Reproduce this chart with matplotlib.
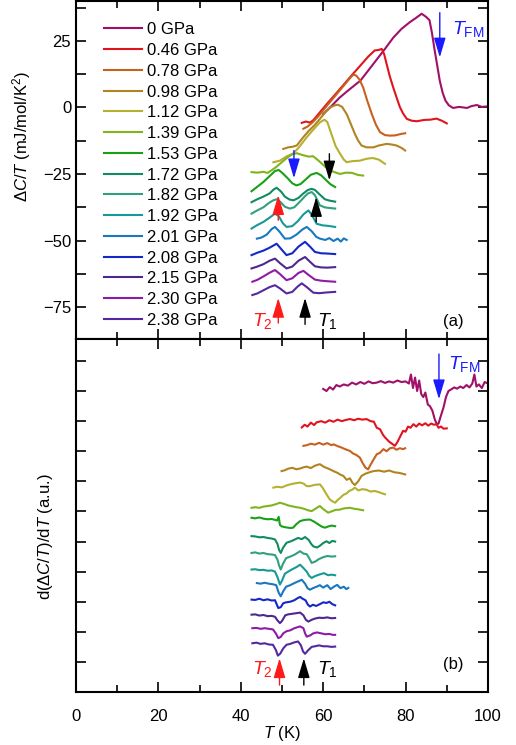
import matplotlib as mp
mp.use("Agg")
import matplotlib.pyplot as plt
from matplotlib.ticker import MultipleLocator, NullFormatter

mp.rcParams.update({
    "font.family": ["Liberation Sans", "DejaVu Sans"],
    "font.size": 12,
    "mathtext.fontset": "custom",
    "mathtext.rm": "Liberation Sans",
    "mathtext.it": "Liberation Sans:italic",
    "mathtext.bf": "Liberation Sans:bold",
})

pressures = ["0 GPa", "0.46 GPa", "0.78 GPa", "0.98 GPa", "1.12 GPa", "1.39 GPa", "1.53 GPa",
             "1.72 GPa", "1.82 GPa", "1.92 GPa", "2.01 GPa", "2.08 GPa", "2.15 GPa",
             "2.30 GPa", "2.38 GPa"]
colors = ["#a01068", "#e0141e", "#c8601e", "#b08420", "#b4b030", "#80b41e", "#18a018",
          "#108c60", "#30a080", "#189898", "#1878c0", "#1428c8", "#4c2890", "#8c1ca8", "#5428a0"]

# ---- panel (a): dC/T (mJ/mol/K^2) vs T (K) ----
ta_000 = [60, 62, 64, 66, 68, 69, 71, 73, 75, 77, 79, 81, 82.5, 83.9, 85, 85.8, 86.4, 87, 87.6,
          88.3, 89, 89.7, 90.5, 91.5, 93, 94.9, 96, 97.3, 98.5, 100]
ca_000 = [-2.5, 0.5, 3.7, 6.3, 8.8, 10, 14, 18, 22, 26.2, 29.5, 32, 33.6, 35.2, 34, 32.8, 28, 22,
          16.5, 10, 5.5, 2.5, 0.8, -0.2, 0.2, -0.2, 0.5, 0.9, 0.2, 0.4]
ta_046 = [54.8, 55.8, 56.8, 57.6, 59, 61, 63, 65, 67, 69, 71, 72.5, 73.5, 74.2, 74.8, 75.4, 76.2,
          77, 77.8, 78.6, 79.4, 80.3, 81.5, 82.7, 84.5, 86, 87.5, 88.8, 90]
ca_046 = [-5.8, -5.3, -5.7, -4.8, -2.2, 1.5, 5, 8.6, 12.2, 15.7, 19.2, 21.4, 21.6, 22, 20, 16.3,
          11.5, 7.5, 3.8, 0.2, -2.3, -4.3, -5, -5.2, -4.7, -4.6, -4.2, -5, -6]
ta_078 = [55.2, 56.2, 57.5, 59, 61, 63, 65, 66.5, 67.3, 68, 68.8, 69.7, 70.7, 71.8, 72.8, 73.8,
          75, 76.2, 77.5, 78.8, 79.9]
ca_078 = [-8, -7.2, -5.5, -3, 0.8, 4.5, 8.2, 11, 12.3, 12, 10.5, 7.5, 2.5, -2.5, -6.5, -9.3,
          -10.4, -10.6, -10.5, -10, -9.7]
ta_098 = [50.3, 51.5, 52.5, 53.6, 55, 56.5, 58, 59.2, 60.5, 61.7, 62.8, 63.6, 64.6, 65.7, 66.7,
          67.7, 68.5, 69.3, 70.5, 72.2, 73.5, 75.4, 76.5, 77.8, 79, 79.9]
ca_098 = [-15.6, -15, -14.8, -14.3, -11.5, -8.8, -6.5, -4.3, -1.8, 0, 0.8, 1, 0.2, -2.5, -6.2,
          -10, -12.5, -14.3, -15, -15, -14.3, -13.7, -13.9, -14.3, -15.2, -16.2]
ta_112 = [47.9, 49.5, 51, 52.7, 54, 55, 56, 57.5, 59.2, 60.3, 61, 62, 63, 64.1, 65, 65.7, 67,
          68.9, 70.5, 72, 73.5, 75]
ca_112 = [-20.6, -20, -18.5, -17.3, -15.2, -13.2, -11.2, -8.5, -5.6, -4.6, -5.5, -10, -14.5,
          -17.4, -19.6, -20.6, -20.2, -20, -19.3, -19, -19.6, -21.2]
ta_139 = [42.6, 44, 45.5, 46.5, 47.5, 48.5, 50, 51.5, 52.5, 53.6, 55, 56.5, 57.5, 58.5, 59.6,
          60.5, 61.5, 62.5, 64.1, 65.5, 67, 68.5, 69.7]
ca_139 = [-24.3, -24.5, -24.2, -24.6, -23.6, -22.5, -20.5, -18.6, -17.6, -17.2, -17.9, -18.5,
          -18.3, -19.5, -21, -22.3, -23.3, -24.2, -25, -24.5, -24.6, -25.4, -25.6]
ta_153 = [42.6, 44, 45.5, 47, 48.3, 49.2, 50.2, 51.5, 52.5, 53.5, 54.5, 55.8, 57, 58.4, 59.5,
          60.5, 61.7, 62.9]
ca_153 = [-31.5, -29.8, -28, -25.8, -23.9, -23.5, -24.8, -26.8, -28.5, -29.3, -28.8, -27, -25.3,
          -24.6, -25.5, -27, -28.8, -29.9]
ta_172 = [42.6, 44, 45.5, 47, 48, 48.7, 49.7, 50.7, 51.8, 52.8, 54, 55.2, 56.3, 57.2, 58, 59,
          60.4, 61.5, 62.9]
ca_172 = [-35.6, -34.5, -33.5, -32.3, -30.8, -30.2, -31.5, -33.5, -34.6, -34.9, -34, -32.3, -31,
          -30.6, -31, -32.5, -34.5, -35, -35.4]
ta_182 = [42.6, 44, 45.5, 47, 47.9, 48.7, 49.6, 50.7, 51.9, 53, 54.3, 55.5, 56.3, 57.2, 58, 59.2,
          60.5, 61.7, 62.9]
ca_182 = [-39.9, -38.7, -37.5, -35.7, -34.9, -34.5, -35.5, -37.3, -38, -37.5, -35.5, -33.5,
          -32.3, -31.8, -33, -36.8, -37.6, -37.8, -38]
ta_192 = [42.6, 44, 45.5, 47, 48.3, 49.2, 50.2, 51.1, 52.5, 53.8, 55.2, 56.4, 57.3, 58.4, 59.8,
          61.2, 62.9]
ca_192 = [-45.5, -44.2, -43, -41.4, -39.9, -40.8, -43.5, -44.9, -44.6, -42.8, -40.2, -38.7,
          -40.5, -43.7, -44.3, -44.5, -44.9]
ta_201 = [43.9, 45, 46.3, 47.5, 48.3, 49.3, 50.7, 52, 53.5, 55, 56, 57.2, 58.3, 59.2, 60.5, 61.5,
          62.5, 63.5, 64.3, 65, 65.7]
ca_201 = [-49.3, -48.9, -47.8, -45.7, -44.9, -46.5, -49.3, -49.2, -47.8, -45.8, -44.9, -46.5,
          -48.6, -49.3, -49.8, -49.1, -50.2, -49.3, -50.4, -49.2, -49.8]
ta_208 = [42.6, 44, 45.5, 47, 48.7, 49.8, 51.1, 52.5, 54, 55.6, 56.8, 58, 59.5, 61, 62.9]
ca_208 = [-55.5, -54.6, -53.8, -52.7, -51.2, -53.2, -55.5, -54.8, -52.3, -50.5, -52.3, -54.3,
          -54.8, -54.9, -55.1]
ta_215 = [42.6, 44, 45.5, 47, 48.3, 49.5, 51.1, 52.5, 54, 55.6, 56.8, 58, 59.5, 61, 62.9]
ca_215 = [-60.5, -59.8, -58.9, -57.6, -56.8, -58.5, -60.5, -59.8, -57.6, -56.2, -58, -59.7,
          -60.1, -60.2, -60]
ta_230 = [42.8, 44, 45.5, 47, 48.3, 49.5, 51.1, 52.5, 54, 55.2, 56.5, 58, 59.5, 61, 62.9]
ca_230 = [-65.5, -64.8, -63.5, -62.1, -61.1, -62.6, -64.9, -64.2, -62.2, -61.4, -63, -64.7,
          -65.1, -65.3, -65.5]
ta_238 = [42.8, 44, 45.5, 47, 48.3, 49.5, 51.1, 52.5, 53.8, 54.8, 56, 57.6, 59, 61, 62.9]
ca_238 = [-70.5, -69.9, -68.7, -67.5, -66.8, -68, -69.9, -69.3, -67.3, -66.1, -67.5, -69.6,
          -69.8, -69.5, -69.3]

# ---- panel (b): d(dC/T)/dT (a.u., curves offset) vs T (K) ----
tb_000 = [60, 60.8, 61.6, 62.4, 63.2, 64, 65, 66, 67, 68, 69, 70, 71, 72, 73, 74, 75, 76, 77, 78,
          79, 80, 80.8, 81.3, 81.8, 82.3, 82.8, 83.3, 83.8, 84.3, 84.8, 85.4, 85.9, 86.5, 87.1,
          87.6, 88, 88.5, 89.2, 89.8, 90.4, 91, 91.8, 92.5, 93.3, 94, 94.8, 95.5, 96.2, 96.7,
          97.2, 97.8, 98.5, 99.2, 100]
db_000 = [10.07, 10.0, 10.13, 10.05, 10.2, 10.15, 10.22, 10.18, 10.28, 10.22, 10.3, 10.24, 10.32,
          10.26, 10.28, 10.33, 10.27, 10.32, 10.28, 10.35, 10.3, 10.32, 10.25, 10.55, 10.1,
          10.45, 10.0, 10.35, 9.9, 9.8, 9.95, 9.55, 9.5, 9.35, 9.05, 8.9, 8.92, 9.15, 9.45, 9.8,
          10.0, 10.05, 10.12, 10.08, 10.15, 10.1, 10.2, 10.12, 10.25, 10.55, 10.15, 10.22, 10.1,
          10.3, 10.25]
tb_046 = [54.8, 55.5, 56.2, 57, 57.8, 58.4, 59.5, 60.5, 61.5, 62.5, 63.5, 64.5, 65.5, 66.5, 67.5,
          68.5, 69.5, 70.5, 71.5, 72.3, 73, 73.8, 74.5, 75, 76, 76.8, 77.4, 78, 78.8, 79.4, 80,
          80.6, 81.2, 81.9, 82.6, 83.3, 84, 84.8, 85.5, 86.2, 86.9, 87.5, 88, 88.6, 89.2, 90]
db_046 = [8.79, 8.88, 8.82, 8.95, 8.87, 8.96, 9.0, 8.95, 9.03, 8.98, 9.05, 9.0, 9.04, 9.07, 9.03,
          9.08, 9.05, 9.07, 9.0, 8.98, 8.78, 8.73, 8.55, 8.46, 8.32, 8.24, 8.18, 8.3, 8.52, 8.68,
          8.65, 8.82, 8.78, 8.9, 8.82, 8.92, 8.86, 8.93, 8.85, 8.92, 8.88, 8.9, 8.78, 8.82, 8.75,
          8.76]
tb_078 = [55.2, 56, 57, 58, 59, 60, 61, 62, 62.5, 63.5, 64.5, 65.5, 66.5, 67.3, 68, 68.9, 69.6,
          70.3, 70.9, 71.5, 72.2, 73, 73.8, 74.6, 75.4, 76.2, 77, 77.8, 78.6, 79.4, 79.9]
db_078 = [8.18, 8.2, 8.25, 8.22, 8.28, 8.22, 8.27, 8.2, 8.23, 8.17, 8.12, 8.06, 8.01, 7.92, 7.88,
          7.79, 7.6, 7.45, 7.4, 7.55, 7.72, 7.9, 7.95, 8.07, 8.0, 8.1, 8.12, 8.05, 8.1, 8.07, 8.1]
tb_098 = [49.9, 50.7, 51.5, 52.5, 53.5, 54.5, 55.3, 56, 57, 58, 59.2, 60.2, 61.3, 62.5, 63.5,
          64.2, 64.9, 65.7, 66.5, 67.1, 67.7, 68.5, 69.3, 70.2, 71.2, 72.2, 73.5, 74.8, 76, 77.3,
          78.5, 79.9]
db_098 = [7.34, 7.37, 7.42, 7.45, 7.4, 7.43, 7.47, 7.49, 7.44, 7.52, 7.57, 7.48, 7.42, 7.34, 7.28,
          7.22, 7.18, 7.05, 7.1, 6.95, 6.88, 7.0, 7.18, 7.25, 7.3, 7.34, 7.36, 7.32, 7.36, 7.3,
          7.28, 7.23]
tb_112 = [47.9, 48.8, 50, 51, 52, 53, 54.4, 55.3, 56, 56.8, 57.8, 59.2, 59.9, 60.8, 61.6, 62.3,
          62.9, 63.5, 64.2, 64.9, 65.7, 66.3, 67, 67.7, 68.5, 69.5, 70.5, 71.5, 72.5, 73.5, 74.3,
          75]
db_112 = [6.79, 6.82, 6.8, 6.86, 6.9, 6.93, 6.96, 6.92, 6.84, 6.84, 6.88, 6.9, 6.78, 6.57, 6.4,
          6.33, 6.29, 6.38, 6.46, 6.55, 6.6, 6.68, 6.72, 6.79, 6.7, 6.74, 6.72, 6.66, 6.68, 6.64,
          6.6, 6.57]
tb_139 = [42.6, 43.5, 44.5, 45.5, 46.5, 47.5, 48.5, 49.5, 50.5, 51.5, 52.5, 53.5, 54.5, 55.5,
          56.3, 57.2, 58, 59.2, 60, 61.2, 62, 63, 64, 65, 66.5, 67.5, 68.5, 69.7]
db_139 = [6.12, 6.14, 6.12, 6.16, 6.18, 6.2, 6.24, 6.29, 6.25, 6.2, 6.17, 6.14, 6.12, 6.08, 6.04,
          6.01, 6.08, 6.18, 6.08, 5.96, 6.0, 6.05, 6.06, 6.1, 6.12, 6.09, 6.07, 6.04]
tb_153 = [42.6, 43.5, 44.5, 45.5, 46.5, 47.5, 48.3, 48.8, 49.2, 49.5, 50, 51, 52, 52.7, 53.5,
          54.4, 55.5, 56.8, 57.8, 58.8, 59.6, 60.4, 61.2, 62, 62.9]
db_153 = [5.79, 5.77, 5.8, 5.76, 5.74, 5.75, 5.72, 5.7, 5.82, 5.55, 5.5, 5.47, 5.45, 5.46, 5.58,
          5.68, 5.72, 5.73, 5.66, 5.57, 5.5, 5.46, 5.5, 5.53, 5.51]
tb_172 = [42.6, 43.5, 44.5, 45.5, 46.5, 47.5, 48.3, 48.9, 49.3, 49.7, 50.2, 51.1, 52, 53, 53.9,
          54.8, 55.6, 56.5, 57.1, 57.6, 58.5, 59.2, 60, 60.8, 61.5, 62.2, 62.9]
db_172 = [5.18, 5.17, 5.14, 5.15, 5.12, 5.1, 5.07, 4.92, 4.72, 4.62, 4.78, 4.96, 5.0, 5.06, 5.12,
          5.08, 5.15, 5.05, 4.92, 4.84, 4.8, 4.86, 4.95, 5.01, 4.95, 5.02, 5.0]
tb_182 = [42.6, 43.5, 44.5, 45.5, 46.5, 47.5, 48.3, 48.9, 49.3, 49.7, 50.2, 51, 52, 53, 54.4,
          55.2, 56, 56.6, 57.2, 58, 59, 60, 61, 62, 62.9]
db_182 = [4.62, 4.64, 4.6, 4.62, 4.58, 4.57, 4.55, 4.4, 4.2, 4.07, 4.25, 4.45, 4.5, 4.56, 4.68,
          4.6, 4.58, 4.45, 4.29, 4.33, 4.42, 4.48, 4.52, 4.5, 4.51]
tb_192 = [42.6, 43.5, 44.5, 45.5, 46.5, 47.5, 48.3, 48.9, 49.5, 50, 50.7, 51.5, 52.5, 53.5, 54.4,
          55.2, 56, 56.6, 57.2, 58, 59, 60.2, 61.2, 62, 62.9]
db_192 = [4.07, 4.08, 4.05, 4.06, 4.03, 4.04, 4.0, 3.82, 3.57, 3.7, 3.93, 4.0, 4.08, 4.15, 4.23,
          4.12, 4.0, 3.86, 3.79, 3.85, 3.9, 3.95, 3.88, 3.9, 3.88]
tb_201 = [43.9, 44.8, 45.8, 46.8, 47.8, 48.6, 49.2, 49.7, 50.3, 51, 52, 53, 54, 54.8, 55.6, 56.2,
          56.8, 57.5, 58.4, 59.2, 60, 61, 61.8, 62.6, 63.4, 64.2, 65, 65.6, 66.1]
db_201 = [3.62, 3.6, 3.63, 3.6, 3.58, 3.55, 3.3, 3.18, 3.35, 3.5, 3.55, 3.62, 3.68, 3.73, 3.6,
          3.45, 3.4, 3.45, 3.5, 3.55, 3.47, 3.55, 3.42, 3.5, 3.56, 3.45, 3.5, 3.42, 3.46]
tb_208 = [42.6, 43.5, 44.5, 45.5, 46.5, 47.5, 48.3, 48.7, 49.1, 49.7, 50.3, 51, 52, 53, 53.8,
          54.4, 55, 55.7, 56.3, 56.8, 57.5, 58.3, 59.2, 60, 60.8, 61.5, 62.2, 62.9]
db_208 = [3.07, 3.06, 3.1, 3.05, 3.08, 3.04, 3.05, 2.92, 2.79, 2.82, 2.95, 2.98, 3.0, 3.05, 3.12,
          3.16, 3.1, 3.05, 2.9, 2.84, 2.9, 2.86, 2.92, 2.98, 2.96, 3.0, 2.92, 2.88]
tb_215 = [42.6, 43.5, 44.5, 45.5, 46.5, 47.5, 48.3, 48.9, 49.5, 50, 50.8, 51.5, 52.5, 53.5, 54.4,
          55.2, 55.8, 56.4, 57.2, 58, 59, 60, 61, 62, 62.9]
db_215 = [2.57, 2.58, 2.54, 2.56, 2.52, 2.53, 2.5, 2.38, 2.29, 2.36, 2.55, 2.58, 2.6, 2.62, 2.64,
          2.55, 2.4, 2.34, 2.4, 2.44, 2.47, 2.46, 2.48, 2.45, 2.46]
tb_230 = [42.8, 43.8, 44.8, 45.8, 46.8, 47.8, 48.5, 49.1, 49.7, 50.3, 51.1, 52, 53, 54.4, 55.2,
          55.6, 56, 56.8, 57.6, 58.5, 59.5, 60.5, 61.5, 62.3, 62.9]
db_230 = [2.12, 2.13, 2.1, 2.12, 2.1, 2.08, 1.95, 1.79, 1.83, 1.95, 2.02, 2.05, 2.12, 2.18, 2.12,
          1.95, 1.84, 1.88, 1.95, 1.98, 1.95, 1.92, 1.93, 1.9, 1.9]
tb_238 = [42.8, 43.8, 44.8, 45.8, 46.8, 47.8, 48.5, 49, 49.6, 50.3, 51.1, 52, 53, 53.9, 54.6,
          55.1, 55.6, 56.3, 57.2, 58, 59, 60, 61, 62, 62.9]
db_238 = [1.62, 1.64, 1.6, 1.62, 1.58, 1.57, 1.4, 1.21, 1.28, 1.45, 1.57, 1.6, 1.65, 1.68, 1.55,
          1.35, 1.27, 1.38, 1.5, 1.52, 1.55, 1.52, 1.52, 1.5, 1.51]

top_T = [ta_000, ta_046, ta_078, ta_098, ta_112, ta_139, ta_153, ta_172, ta_182, ta_192,
         ta_201, ta_208, ta_215, ta_230, ta_238]
top_C = [ca_000, ca_046, ca_078, ca_098, ca_112, ca_139, ca_153, ca_172, ca_182, ca_192,
         ca_201, ca_208, ca_215, ca_230, ca_238]
bot_T = [tb_000, tb_046, tb_078, tb_098, tb_112, tb_139, tb_153, tb_172, tb_182, tb_192,
         tb_201, tb_208, tb_215, tb_230, tb_238]
bot_D = [db_000, db_046, db_078, db_098, db_112, db_139, db_153, db_172, db_182, db_192,
         db_201, db_208, db_215, db_230, db_238]

fig = plt.figure(figsize=(5.16, 7.45), dpi=100)
ax1 = fig.add_axes([0.1473, 0.545, 0.7984, 0.4537])
ax2 = fig.add_axes([0.1473, 0.0711, 0.7984, 0.4739])

for x, y, c, lab in zip(top_T, top_C, colors, pressures):
    ax1.plot(x, y, color=c, lw=1.5, label=lab)
for x, y, c in zip(bot_T, bot_D, colors):
    ax2.plot(x, y, color=c, lw=1.5)


def arrow(ax, x, y0, y1, col):
    ax.annotate("", xy=(x, y1), xytext=(x, y0),
                arrowprops=dict(arrowstyle="-|>,head_length=0.6,head_width=0.18",
                                color=col, lw=1.0, mutation_scale=20,
                                shrinkA=0, shrinkB=0))


# arrows in (a)
arrow(ax1, 88.3, 35.6, 18.8, "#1a1aff")
arrow(ax1, 52.9, -16.2, -26.6, "#1a1aff")
arrow(ax1, 61.5, -17.4, -27.4, "black")
arrow(ax1, 49.1, -42.4, -33.0, "#ff1a1a")
arrow(ax1, 58.3, -43.0, -33.7, "black")
arrow(ax1, 49.1, -81.0, -71.6, "#ff1a1a")
arrow(ax1, 55.6, -81.5, -71.6, "black")
ax1.text(91.2, 29.5, r"$T_{\rm FM}$", color="#1a1aff", fontsize=14, ha="left", va="center")
ax1.text(47.8, -80.3, r"$T_2$", color="#ff1a1a", fontsize=14, ha="right", va="center")
ax1.text(58.4, -80.3, r"$T_1$", color="black", fontsize=14, ha="left", va="center")
ax1.text(91.5, -80.6, "(a)", fontsize=12, ha="center", va="center")

# arrows in (b)
arrow(ax2, 88.1, 11.23, 9.73, "#1a1aff")
arrow(ax2, 49.4, 0.23, 1.12, "#ff1a1a")
arrow(ax2, 55.3, 0.23, 1.12, "black")
ax2.text(90.3, 10.9, r"$T_{\rm FM}$", color="#1a1aff", fontsize=14, ha="left", va="center")
ax2.text(47.8, 0.75, r"$T_2$", color="#ff1a1a", fontsize=14, ha="right", va="center")
ax2.text(58.4, 0.75, r"$T_1$", color="black", fontsize=14, ha="left", va="center")
ax2.text(91.5, 0.9, "(b)", fontsize=12, ha="center", va="center")

for ax in (ax1, ax2):
    ax.set_xlim(0, 100)
    ax.xaxis.set_major_locator(MultipleLocator(20))
    ax.xaxis.set_minor_locator(MultipleLocator(10))
    ax.tick_params(which="both", direction="in", top=True, right=True, width=1.2)
    ax.tick_params(which="major", length=7)
    ax.tick_params(which="minor", length=5)
    ax.tick_params(axis="x", which="major", pad=12)
    for s in ax.spines.values():
        s.set_linewidth(1.5)

ax1.set_ylim(-87, 40)
ax1.yaxis.set_major_locator(MultipleLocator(25))
ax1.yaxis.set_minor_locator(MultipleLocator(12.5))
ax1.tick_params(axis="y", which="minor", length=7)
ax1.xaxis.set_major_formatter(NullFormatter())
ax1.set_ylabel(r"$\Delta C/T$ (mJ/mol/K$^2$)", fontsize=12)
ax1.yaxis.set_label_coords(-0.105, 0.6)

ax2.set_ylim(0, 11.73)
ax2.yaxis.set_major_locator(MultipleLocator(1))
ax2.yaxis.set_major_formatter(NullFormatter())
ax2.set_ylabel(r"d($\Delta C/T$)/d$T$ (a.u.)", fontsize=12)
ax2.yaxis.set_label_coords(-0.05, 0.44)
ax2.set_xlabel(r"$T$ (K)", fontsize=12, labelpad=0)

ax1.legend(loc="upper left", bbox_to_anchor=(0.068, 0.937), frameon=False, fontsize=12,
           borderpad=0, borderaxespad=0, handlelength=2.3, handletextpad=0.25,
           labelspacing=0.345)

fig.savefig("out.png", dpi=100)
